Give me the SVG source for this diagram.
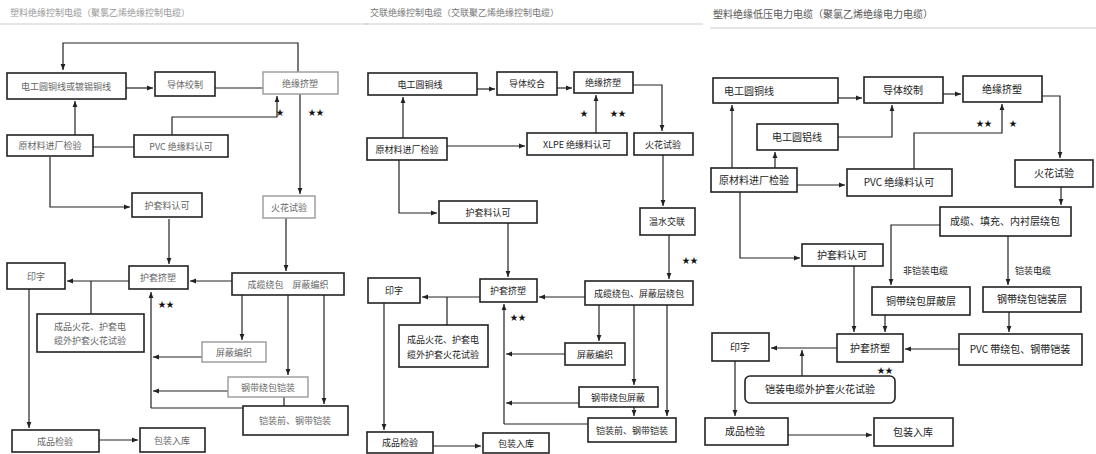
<svg xmlns="http://www.w3.org/2000/svg" width="1096" height="454" viewBox="0 0 1096 454">
<style>
text{font-family:"Noto Sans CJK SC","Noto Sans",sans-serif;font-size:9px;fill:#222;text-anchor:middle}
.t{text-anchor:start;fill:#999}
.b{fill:#fff;stroke:#222;stroke-width:1.6}
.f{fill:#fff;stroke:#999;stroke-width:1.4}
.p1 text{fill:#666}
.c{fill:none;stroke:#222;stroke-width:1.2}
.a{marker-end:url(#ah)}
.s{font-size:8px;fill:#111}
.l{text-anchor:start}
.big text{font-size:10px}
</style>
<defs>
<marker id="ah" viewBox="0 0 10 10" refX="10" refY="5" markerWidth="7" markerHeight="6" markerUnits="userSpaceOnUse" orient="auto"><path d="M0,1 L10,5 L0,9 z" fill="#222"/></marker>
</defs>
<rect width="1096" height="454" fill="#fff"/>
<g id="titles">
<text class="t" x="10" y="16">塑料绝缘控制电缆（聚氯乙烯绝缘控制电缆）</text>
<text class="t" x="370" y="16" style="fill:#777">交联绝缘控制电缆（交联聚乙烯绝缘控制电缆）</text>
<text class="t" x="713" y="18" style="fill:#555;font-size:10px">塑料绝缘低压电力电缆（聚氯乙烯绝缘电力电缆）</text>
<path d="M0,24 H368 M365,24 H703 M710,28 H1096" stroke="#ccc" stroke-width="1" fill="none"/>
</g>
<g id="connectors">
<path class="c a" d="M298,72 V43 H63 V70"/>
<path class="c a" d="M126,88 H153"/>
<path class="c" d="M215,88 H263"/>
<path class="c a" d="M75,135 V101"/>
<path class="c" d="M93,147 H134"/>
<path class="c a" d="M172,135 V117 H277 V96"/>
<path class="c a" d="M300,94 V194"/>
<path class="c a" d="M50,157 V207 H130"/>
<path class="c a" d="M169,219 V264"/>
<path class="c a" d="M286,218 V271"/>
<path class="c a" d="M232,281 H190"/>
<path class="c a" d="M129,281 H67"/>
<path class="c" d="M91,281 V314"/>
<path class="c a" d="M29,289 V428"/>
<path class="c a" d="M99,440 H138"/>
<path class="c a" d="M151,408 V292"/>
<path class="c a" d="M202,357 H153"/>
<path class="c a" d="M228,391 H153"/>
<path class="c" d="M243,408 H151"/>
<path class="c a" d="M242,295 V340"/>
<path class="c a" d="M288,295 V375"/>
<path class="c a" d="M324,295 V404"/>
<path class="c" d="M284,397 V406"/>
<path class="c a" d="M477,89 H495"/>
<path class="c a" d="M557,88 H572"/>
<path class="c a" d="M633,85 H662 V131"/>
<path class="c a" d="M596,133 V95"/>
<path class="c a" d="M403,138 V97"/>
<path class="c a" d="M447,146 H525"/>
<path class="c a" d="M399,160 V213 H437"/>
<path class="c a" d="M508,223 V277"/>
<path class="c a" d="M663,155 V206"/>
<path class="c a" d="M669,235 V279"/>
<path class="c a" d="M585,297 H539"/>
<path class="c a" d="M480,297 H422"/>
<path class="c a" d="M384,303 V430"/>
<path class="c" d="M447,325 V297"/>
<path class="c a" d="M433,446 H481"/>
<path class="c a" d="M504,424 V304"/>
<path class="c a" d="M565,354 H506"/>
<path class="c a" d="M579,403 H506"/>
<path class="c" d="M588,424 H504"/>
<path class="c a" d="M599,305 V341"/>
<path class="c a" d="M634,305 V385"/>
<path class="c a" d="M667,305 V416"/>
<path class="c a" d="M634,407 V416"/>
<path class="c a" d="M838,98 H862"/>
<path class="c a" d="M943,94 H961"/>
<path class="c a" d="M1042,96 H1060 V158"/>
<path class="c a" d="M838,137 H892 V105"/>
<path class="c a" d="M914,169 V133 H1002 V104"/>
<path class="c a" d="M732,168 V105"/>
<path class="c a" d="M775,168 V152"/>
<path class="c a" d="M797,185 H845"/>
<path class="c a" d="M740,192 V258 H800"/>
<path class="c a" d="M1061,187 V205"/>
<path class="c a" d="M940,225 H891 V285"/>
<path class="c a" d="M1008,236 V285"/>
<path class="c a" d="M854,266 V332"/>
<path class="c a" d="M885,315 V332"/>
<path class="c a" d="M1009,312 V332"/>
<path class="c a" d="M959,349 H905"/>
<path class="c a" d="M837,348 H771"/>
<path class="c a" d="M802,376 V350"/>
<path class="c a" d="M735,361 V416"/>
<path class="c a" d="M788,435 H872"/>
</g>
<g id="marks">
<text class="s" x="280" y="115">★</text>
<text class="s" x="316" y="115">★★</text>
<text class="s" x="166" y="307">★★</text>
<text class="s" x="584" y="116">★</text>
<text class="s" x="618" y="116">★★</text>
<text class="s" x="690" y="263">★★</text>
<text class="s" x="518" y="320">★★</text>
<text class="s" x="984" y="126">★★</text>
<text class="s" x="1013" y="126">★</text>
<text class="l" x="903" y="274">非铠装电缆</text>
<text class="l" x="1015" y="274">铠装电缆</text>
</g>
<g class="p1">
<g id="n1a"><rect class="b" x="7" y="73" width="119" height="26"/><text x="66" y="90">电工圆铜线或镀锡铜线</text></g>
<g id="n1b"><rect class="b" x="155" y="72" width="60" height="24"/><text x="185" y="88">导体绞制</text></g>
<g id="n1c"><rect class="f" x="263" y="72" width="75" height="22"/><text x="300" y="87">绝缘挤塑</text></g>
<g id="n1d"><rect class="b" x="7" y="135" width="86" height="21"/><text x="50" y="149">原材料进厂检验</text></g>
<g id="n1e"><rect class="b" x="134" y="135" width="94" height="22"/><text x="181" y="150">PVC 绝缘料认可</text></g>
<g id="n1f"><rect class="b" x="132" y="193" width="70" height="24"/><text x="167" y="209">护套料认可</text></g>
<g id="n1g"><rect class="f" x="263" y="196" width="52" height="22"/><text x="289" y="211">火花试验</text></g>
<g id="n1h"><rect class="b" x="129" y="266" width="59" height="23"/><text x="158" y="281">护套挤塑</text></g>
<g id="n1i"><rect class="b" x="7" y="263" width="58" height="26"/><text x="36" y="280">印字</text></g>
<g id="n1j"><rect class="b" x="232" y="273" width="112" height="22"/><text x="288" y="288">成缆绕包　屏蔽编织</text></g>
<g id="n1k"><rect class="b" x="37" y="314" width="107" height="38"/><text x="90" y="330">成品火花、护套电</text><text x="90" y="344">缆外护套火花试验</text></g>
<g id="n1l"><rect class="b" x="12" y="430" width="87" height="22"/><text x="55" y="445">成品检验</text></g>
<g id="n1m"><rect class="b" x="140" y="428" width="65" height="24"/><text x="172" y="444">包装入库</text></g>
<g id="n1n"><rect class="f" x="202" y="342" width="64" height="20"/><text x="234" y="356">屏蔽编织</text></g>
<g id="n1o"><rect class="f" x="228" y="377" width="80" height="20"/><text x="268" y="391">钢带绕包铠装</text></g>
<g id="n1p"><rect class="b" x="243" y="406" width="105" height="29"/><text x="295" y="424">铠装前、钢带铠装</text></g>
</g>
<g>
<g id="n2a"><rect class="b" x="368" y="73" width="109" height="22"/><text x="420" y="88">电工圆铜线</text></g>
<g id="n2b"><rect class="b" x="497" y="72" width="60" height="23"/><text x="527" y="87">导体绞合</text></g>
<g id="n2c"><rect class="b" x="574" y="72" width="59" height="21"/><text x="603" y="86">绝缘挤塑</text></g>
<g id="n2d"><rect class="b" x="634" y="133" width="59" height="22"/><text x="663" y="148">火花试验</text></g>
<g id="n2e"><rect class="b" x="367" y="138" width="80" height="22"/><text x="407" y="153">原材料进厂检验</text></g>
<g id="n2f"><rect class="b" x="527" y="133" width="100" height="22"/><text x="577" y="148">XLPE 绝缘料认可</text></g>
<g id="n2g"><rect class="b" x="439" y="201" width="98" height="22"/><text x="488" y="216">护套料认可</text></g>
<g id="n2h"><rect class="b" x="640" y="208" width="55" height="27"/><text x="667" y="225">温水交联</text></g>
<g id="n2i"><rect class="b" x="368" y="278" width="52" height="25"/><text x="394" y="294">印字</text></g>
<g id="n2k"><rect class="b" x="480" y="279" width="57" height="23"/><text x="508" y="294">护套挤塑</text></g>
<g id="n2j"><rect class="b" x="585" y="281" width="108" height="24"/><text x="639" y="297">成缆绕包、屏蔽层绕包</text></g>
<g id="n2n"><rect class="b" x="399" y="325" width="89" height="42"/><text x="443" y="343">成品火花、护套电</text><text x="443" y="358">缆外护套火花试验</text></g>
<g id="n2o"><rect class="b" x="565" y="343" width="60" height="22"/><text x="595" y="358">屏蔽编织</text></g>
<g id="n2p"><rect class="b" x="579" y="387" width="79" height="20"/><text x="618" y="401">钢带绕包屏蔽</text></g>
<g id="n2q"><rect class="b" x="588" y="418" width="88" height="24"/><text x="632" y="434">铠装前、钢带铠装</text></g>
<g id="n2l"><rect class="b" x="367" y="432" width="66" height="21"/><text x="400" y="446">成品检验</text></g>
<g id="n2m"><rect class="b" x="483" y="433" width="66" height="20"/><text x="516" y="447">包装入库</text></g>
</g>
<g class="big">
<g id="n3a"><rect class="b" x="713" y="78" width="125" height="25"/><text class="l" x="724" y="95">电工圆铜线</text></g>
<g id="n3b"><rect class="b" x="864" y="77" width="79" height="26"/><text x="903" y="94">导体绞制</text></g>
<g id="n3c"><rect class="b" x="963" y="76" width="79" height="26"/><text x="1002" y="93">绝缘挤塑</text></g>
<g id="n3d"><rect class="b" x="757" y="124" width="81" height="26"/><text x="797" y="141">电工圆铝线</text></g>
<g id="n3e"><rect class="b" x="711" y="168" width="86" height="24"/><text x="754" y="184">原材料进厂检验</text></g>
<g id="n3f"><rect class="b" x="847" y="169" width="105" height="27"/><text x="899" y="186">PVC 绝缘料认可</text></g>
<g id="n3g"><rect class="b" x="802" y="244" width="81" height="22"/><text x="842" y="259">护套料认可</text></g>
<g id="n3h"><rect class="b" x="1015" y="160" width="78" height="27"/><text x="1054" y="177">火花试验</text></g>
<g id="n3i"><rect class="b" x="940" y="207" width="131" height="29"/><text x="1005" y="225">成缆、填充、内衬层绕包</text></g>
<g id="n3j"><rect class="b" x="872" y="287" width="98" height="28"/><text x="921" y="305">铜带绕包屏蔽层</text></g>
<g id="n3k"><rect class="b" x="983" y="287" width="98" height="25"/><text x="1032" y="303">钢带绕包铠装层</text></g>
<g id="n3l"><rect class="b" x="837" y="334" width="66" height="28"/><text x="870" y="352">护套挤塑</text></g>
<g id="n3m"><rect class="b" x="959" y="334" width="123" height="31"/><text x="1020" y="353">PVC 带绕包、钢带铠装</text></g>
<g id="n3n"><rect class="b" x="712" y="333" width="57" height="28"/><text x="740" y="351">印字</text></g>
<g id="n3r"><rect class="b" x="745" y="376" width="150" height="27" rx="5"/><text x="820" y="393">铠装电缆外护套火花试验</text></g>
<g id="n3o"><rect class="b" x="705" y="418" width="83" height="27"/><text x="745" y="435">成品检验</text></g>
<g id="n3p"><rect class="b" x="874" y="418" width="79" height="28"/><text x="913" y="436">包装入库</text></g>
</g>
<text class="s" x="885" y="373">★★</text>
</svg>
